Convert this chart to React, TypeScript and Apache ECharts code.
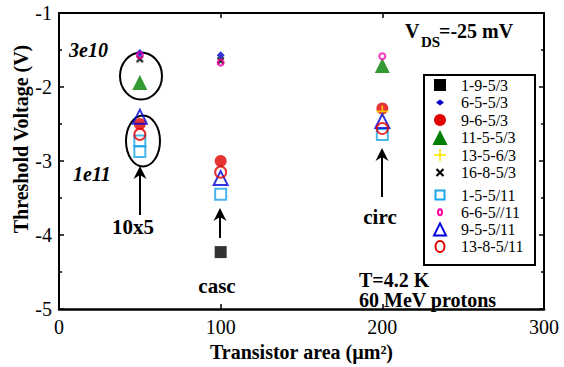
import { useEffect, useRef } from "react";
import * as echarts from "echarts";

const FONT = "Liberation Serif, Tinos, DejaVu Serif, serif";

// Series names (device geometry codes)
const seriesNames = [
  "1-9-5/3",
  "6-5-5/3",
  "9-6-5/3",
  "11-5-5/3",
  "13-5-6/3",
  "16-8-5/3",
  "1-5-5/11",
  "6-6-5//11",
  "9-5-5/11",
  "13-8-5/11",
];

// [transistor area (µm²), threshold voltage (V)]
const d_1_9_5_3 = [[100, -4.23]];
const d_6_5_5_3 = [[50, -1.54], [100, -1.57]];
const d_9_6_5_3 = [[50, -2.5], [100, -3.0], [200, -2.29]];
const d_11_5_5_3 = [[50, -1.94], [200, -1.71]];
const d_13_5_6_3 = [[200, -2.33]];
const d_16_8_5_3 = [[50, -1.62], [100, -1.645]];
const d_1_5_5_11 = [[50, -2.73], [50, -2.87], [100, -3.45], [200, -2.64]];
const d_6_6_5_11 = [[50, -1.57], [100, -1.67], [200, -1.585]];
const d_9_5_5_11 = [[50, -2.4], [100, -3.23], [200, -2.46]];
const d_13_8_5_11 = [[50, -2.64], [100, -3.15], [200, -2.56]];

const seriesData = [
  d_1_9_5_3,
  d_6_5_5_3,
  d_9_6_5_3,
  d_11_5_5_3,
  d_13_5_6_3,
  d_16_8_5_3,
  d_1_5_5_11,
  d_6_6_5_11,
  d_9_5_5_11,
  d_13_8_5_11,
];

const CROSS_PATH =
  "path://M0,0 L2.5,0 L5,2.5 L7.5,0 L10,0 L10,2.5 L7.5,5 L10,7.5 L10,10 L7.5,10 L5,7.5 L2.5,10 L0,10 L0,7.5 L2.5,5 L0,2.5 Z";
const PLUS_PATH =
  "path://M4.3,0 H5.7 V4.3 H10 V5.7 H5.7 V10 H4.3 V5.7 H0 V4.3 H4.3 Z";

type MarkerKind =
  | "square"
  | "diamond"
  | "circle"
  | "triangle"
  | "plus"
  | "cross"
  | "openSquare"
  | "openCircle"
  | "openTriangle";

interface Marker {
  kind: MarkerKind;
  color: string;
  size: number;
}

const markers: Marker[] = [
  { kind: "square", color: "#000000", size: 12 },
  { kind: "diamond", color: "#0000cc", size: 8 },
  { kind: "circle", color: "#e00000", size: 12 },
  { kind: "triangle", color: "#008000", size: 15 },
  { kind: "plus", color: "#ffe600", size: 12 },
  { kind: "cross", color: "#000000", size: 7 },
  { kind: "openSquare", color: "#1aa3e8", size: 11 },
  { kind: "openCircle", color: "#ff00aa", size: 6 },
  { kind: "openTriangle", color: "#0000e0", size: 14 },
  { kind: "openCircle", color: "#e00000", size: 11 },
];

function seriesSymbol(m: Marker): string {
  switch (m.kind) {
    case "square":
    case "openSquare":
      return "rect";
    case "diamond":
      return "diamond";
    case "circle":
    case "openCircle":
      return "circle";
    case "triangle":
    case "openTriangle":
      return "triangle";
    case "plus":
      return PLUS_PATH;
    case "cross":
      return CROSS_PATH;
  }
}

function isOpen(m: Marker) {
  return m.kind === "openSquare" || m.kind === "openCircle" || m.kind === "openTriangle";
}

// Legend icon drawn with plain graphic shapes
function legendIcon(m: Marker, cx: number, cy: number): any {
  const s = m.size;
  const h = s / 2;
  const stroke = { stroke: m.color, lineWidth: 2, fill: "none" };
  switch (m.kind) {
    case "square":
      return { type: "rect", shape: { x: cx - h, y: cy - h, width: s, height: s }, style: { fill: m.color } };
    case "openSquare":
      return { type: "rect", shape: { x: cx - h + 1, y: cy - h + 1, width: s - 2, height: s - 2 }, style: stroke };
    case "diamond":
      return {
        type: "polygon",
        shape: { points: [[cx, cy - h + 1], [cx + h, cy], [cx, cy + h - 1], [cx - h, cy]] },
        style: { fill: m.color },
      };
    case "circle":
      return { type: "circle", shape: { cx, cy, r: h }, style: { fill: m.color } };
    case "openCircle":
      return { type: "ellipse", shape: { cx, cy, rx: h - 1, ry: h }, style: stroke };
    case "triangle":
      return {
        type: "polygon",
        shape: { points: [[cx, cy - h], [cx + h, cy + h], [cx - h, cy + h]] },
        style: { fill: m.color },
      };
    case "openTriangle":
      return {
        type: "polygon",
        shape: { points: [[cx, cy - h + 1], [cx + h - 1, cy + h - 1], [cx - h + 1, cy + h - 1]] },
        style: stroke,
      };
    case "plus":
      return {
        type: "group",
        children: [
          { type: "line", shape: { x1: cx - h, y1: cy, x2: cx + h, y2: cy }, style: { stroke: m.color, lineWidth: 1.6 } },
          { type: "line", shape: { x1: cx, y1: cy - h, x2: cx, y2: cy + h }, style: { stroke: m.color, lineWidth: 1.6 } },
        ],
      };
    case "cross":
      return {
        type: "group",
        children: [
          { type: "line", shape: { x1: cx - h, y1: cy - h, x2: cx + h, y2: cy + h }, style: { stroke: m.color, lineWidth: 2.2 } },
          { type: "line", shape: { x1: cx - h, y1: cy + h, x2: cx + h, y2: cy - h }, style: { stroke: m.color, lineWidth: 2.2 } },
        ],
      };
  }
}

function arrow(x: number, yTip: number, yBase: number): any {
  return {
    type: "group",
    children: [
      { type: "line", shape: { x1: x, y1: yTip + 8, x2: x, y2: yBase }, style: { stroke: "#000", lineWidth: 2 } },
      {
        type: "polygon",
        shape: { points: [[x, yTip], [x + 6.5, yTip + 13], [x, yTip + 9], [x - 6.5, yTip + 13]] },
        style: { fill: "#000" },
      },
    ],
  };
}

function label(text: string, x: number, y: number, opts: any = {}): any {
  const size = opts.size ?? 21;
  return {
    type: "text",
    x,
    y,
    style: {
      text,
      fill: "#000",
      fontFamily: FONT,
      fontSize: size,
      fontWeight: opts.weight ?? "bold",
      fontStyle: opts.style ?? "normal",
      lineHeight: opts.lineHeight ?? size,
      align: opts.align ?? "left",
      verticalAlign: "middle",
    },
  };
}

function buildOption(): any {
  const series = seriesNames.map((name, i) => {
    const m = markers[i];
    const open = isOpen(m);
    return {
      name,
      type: "scatter",
      data: seriesData[i],
      symbol: seriesSymbol(m),
      symbolSize: m.size,
      itemStyle: open
        ? { color: "transparent", borderColor: m.color, borderWidth: 2 }
        : { color: m.color, borderWidth: 0 },
      emphasis: { disabled: true },
      z: 3 + i * 0.01,
    };
  });

  const legendChildren: any[] = [
    {
      type: "rect",
      shape: { x: 424, y: 75, width: 111, height: 190 },
      style: { fill: "#fff", stroke: "#000", lineWidth: 2 },
    },
  ];
  seriesNames.forEach((name, i) => {
    const cy = i < 6 ? 85 + i * 17.5 : 195 + (i - 6) * 17.2;
    legendChildren.push(legendIcon(markers[i], 440, cy));
    legendChildren.push(label(name, 461, cy, { size: 16, weight: "normal" }));
  });

  const graphic: any[] = [
    // y axis title
    {
      type: "text",
      x: 21,
      y: 139,
      rotation: Math.PI / 2,
      style: {
        text: "Threshold Voltage (V)",
        fill: "#000",
        fontFamily: FONT,
        fontSize: 20,
        fontWeight: "bold",
        align: "center",
        verticalAlign: "middle",
      },
    },
    // dose groupings
    { type: "ellipse", shape: { cx: 141, cy: 76, rx: 21, ry: 23.5 }, style: { fill: "none", stroke: "#000", lineWidth: 2 } },
    { type: "ellipse", shape: { cx: 143, cy: 141, rx: 17, ry: 25.5 }, style: { fill: "none", stroke: "#000", lineWidth: 2 } },
    label("3e10", 69, 50, { size: 20, style: "italic" }),
    label("1e11", 73, 174, { size: 20, style: "italic" }),
    // geometry arrows
    arrow(140, 166, 215),
    label("10x5", 133, 227, { align: "center" }),
    arrow(220, 208, 238),
    label("casc", 217, 286, { align: "center" }),
    arrow(382, 148, 197),
    label("circ", 380, 217, { align: "center" }),
    // bias and conditions
    label("V", 405, 31, { size: 20 }),
    label("DS", 421, 42, { size: 15, lineHeight: 12 }),
    label("=-25 mV", 439, 31, { size: 20 }),
    label("T=4.2 K", 359, 280, { size: 20 }),
    label("60 MeV protons", 359, 300, { size: 20 }),
    { type: "group", children: legendChildren, z: 100 },
  ];

  const axisText = { color: "#000", fontFamily: FONT, fontSize: 20, fontWeight: "normal" };

  return {
    animation: false,
    backgroundColor: "#fff",
    textStyle: { fontFamily: FONT },
    grid: { left: 59, right: 20, top: 13, bottom: 49, containLabel: false },
    xAxis: [
      {
        type: "value",
        min: 0,
        max: 300,
        interval: 100,
        position: "bottom",
        axisLine: { show: true, onZero: false, lineStyle: { color: "#000", width: 2.5 } },
        axisTick: { show: true, inside: true, length: 5, lineStyle: { color: "#000", width: 1.5 } },
        axisLabel: { ...axisText, margin: 8 },
        splitLine: { show: false },
        name: "Transistor area (µm²)",
        nameLocation: "middle",
        nameGap: 27,
        nameTextStyle: { color: "#000", fontFamily: FONT, fontSize: 20, fontWeight: "bold" },
      },
      {
        type: "value",
        min: 0,
        max: 300,
        interval: 100,
        position: "top",
        axisLine: { show: true, onZero: false, lineStyle: { color: "#000", width: 2 } },
        axisTick: { show: true, inside: true, length: 5, lineStyle: { color: "#000", width: 1.5 } },
        axisLabel: { show: false },
        splitLine: { show: false },
      },
    ],
    yAxis: [
      {
        type: "value",
        min: -5,
        max: -1,
        interval: 1,
        position: "left",
        axisLine: { show: true, onZero: false, lineStyle: { color: "#000", width: 2 } },
        axisTick: { show: true, inside: true, length: 5, lineStyle: { color: "#000", width: 1.5 } },
        minorTick: { show: true, splitNumber: 2, length: 3, lineStyle: { color: "#000", width: 1.5 } },
        axisLabel: { ...axisText, margin: 7 },
        splitLine: { show: false },
        minorSplitLine: { show: false },
      },
      {
        type: "value",
        min: -5,
        max: -1,
        interval: 1,
        position: "right",
        axisLine: { show: true, onZero: false, lineStyle: { color: "#000", width: 2 } },
        axisTick: { show: true, inside: true, length: 5, lineStyle: { color: "#000", width: 1.5 } },
        minorTick: { show: true, splitNumber: 2, length: 3, lineStyle: { color: "#000", width: 1.5 } },
        axisLabel: { show: false },
        splitLine: { show: false },
        minorSplitLine: { show: false },
      },
    ],
    series,
    graphic,
  };
}

export default function App() {
  const ref = useRef<HTMLDivElement>(null);
  useEffect(() => {
    if (!ref.current) return;
    const chart = echarts.init(ref.current, null, { renderer: "svg" });
    chart.setOption(buildOption());
    return () => chart.dispose();
  }, []);
  return (
    <div
      ref={ref}
      style={{ position: "fixed", left: 0, top: 0, width: 564, height: 367, background: "#fff" }}
    />
  );
}
